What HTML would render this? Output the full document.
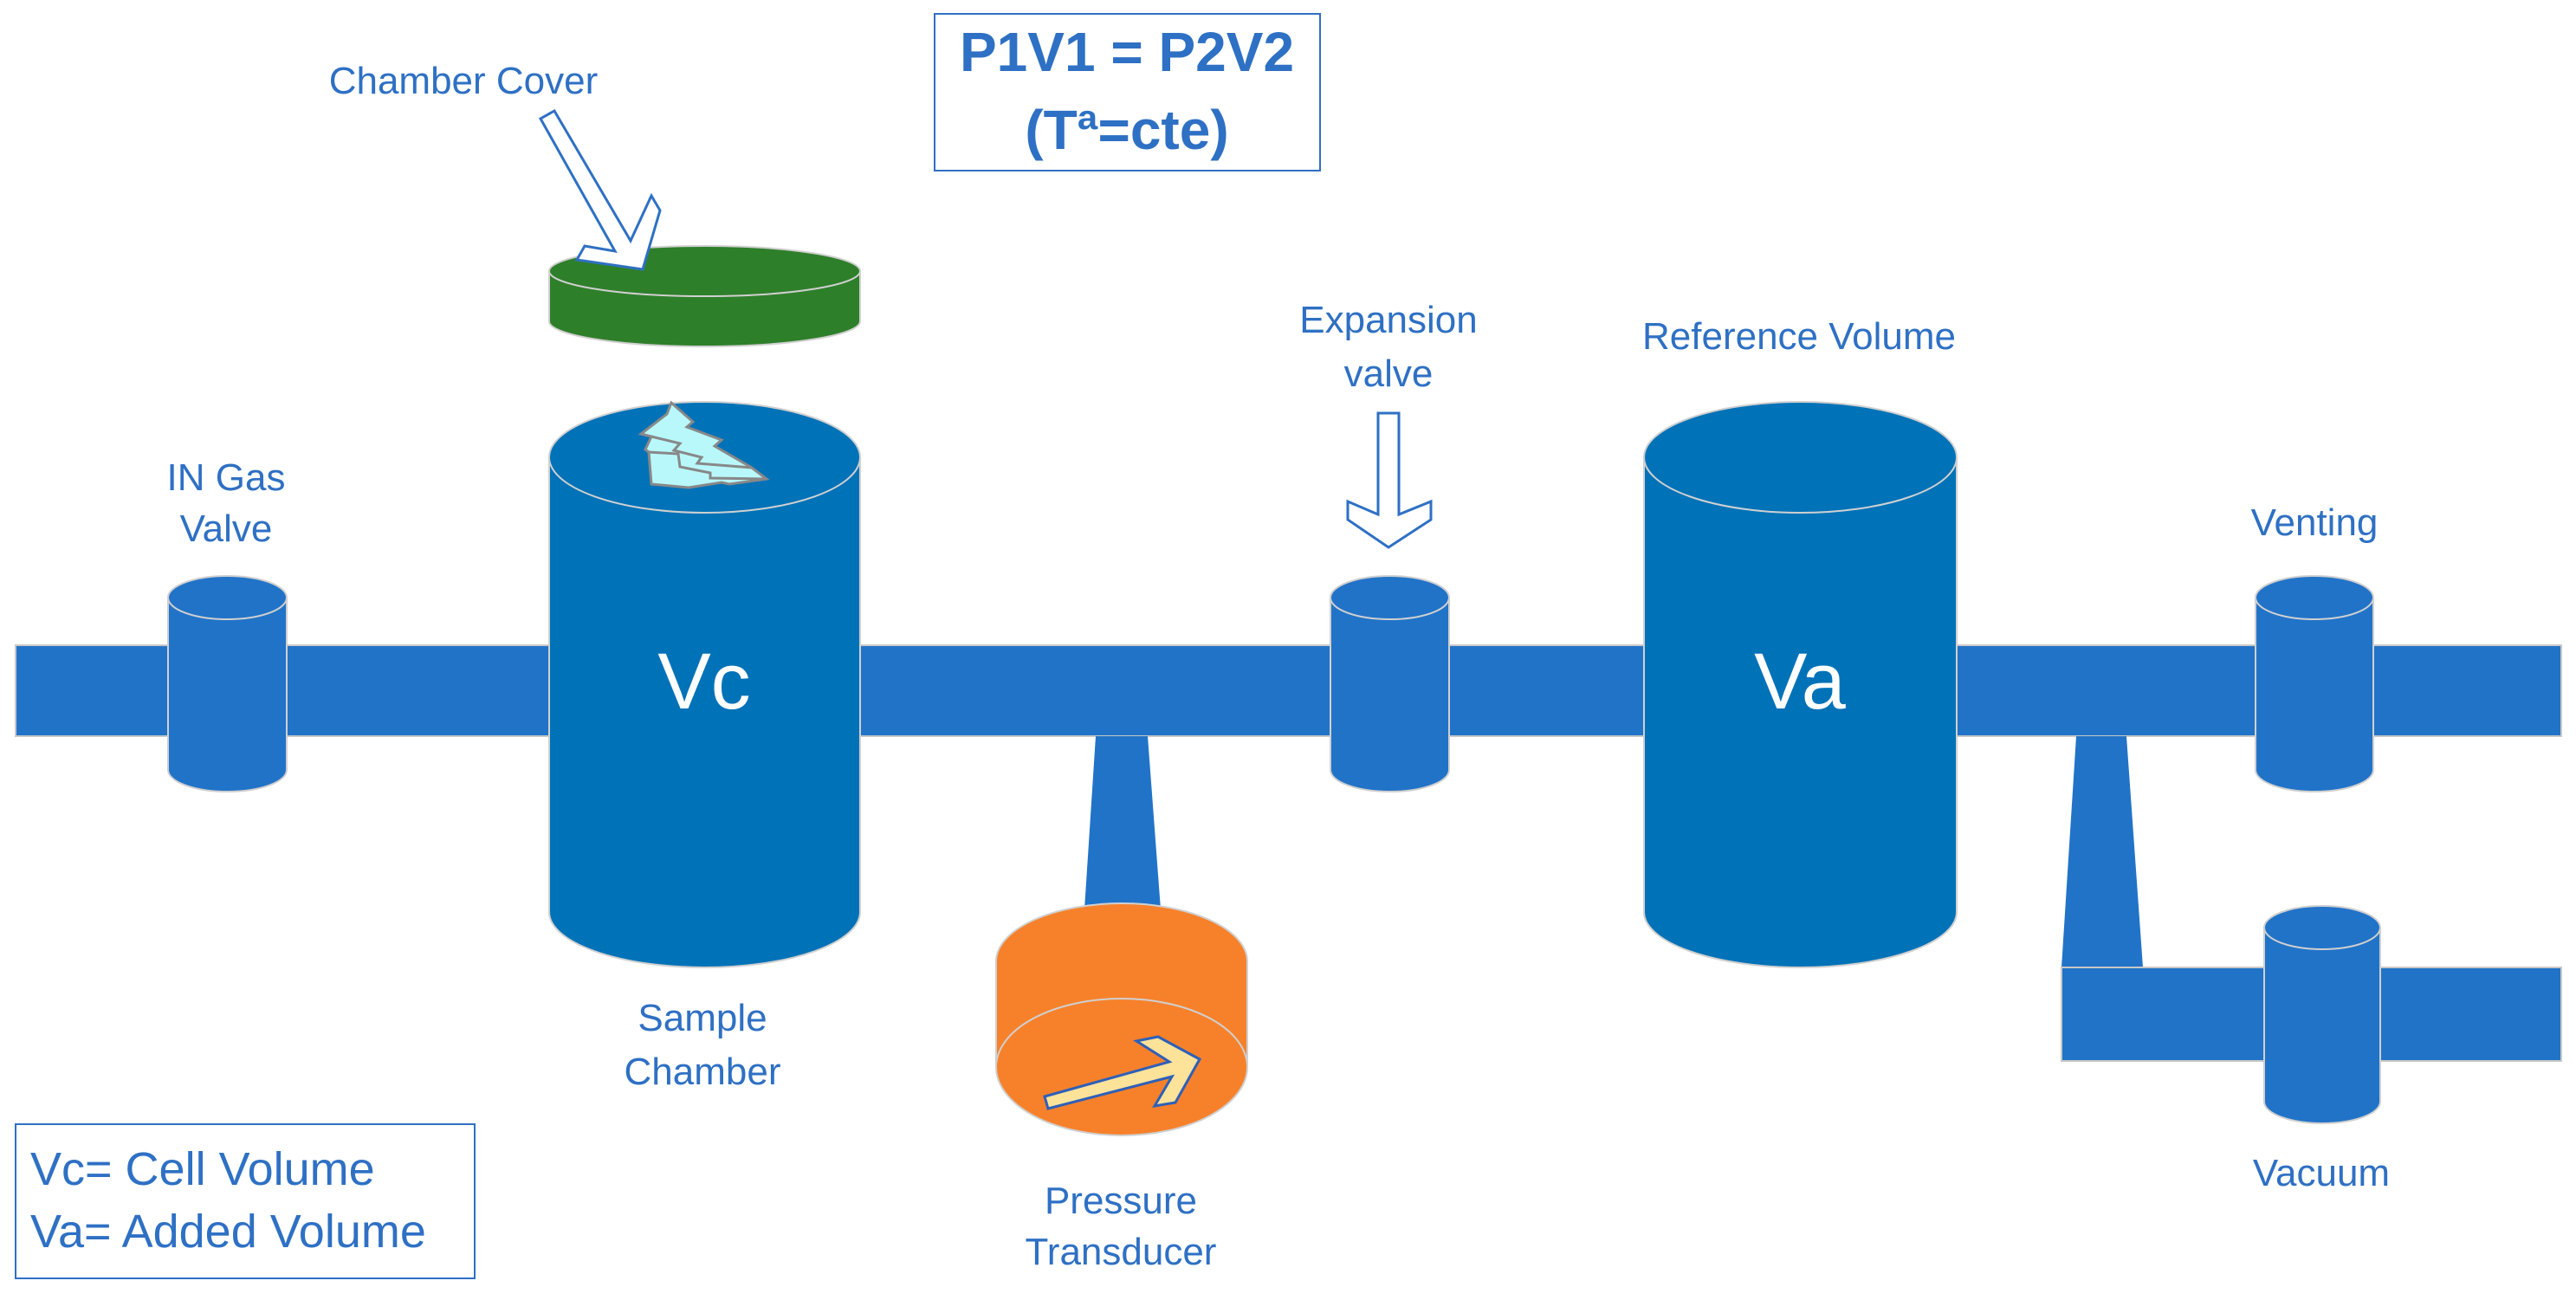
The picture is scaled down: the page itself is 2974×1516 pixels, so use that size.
<!DOCTYPE html>
<html><head><meta charset="utf-8"><style>
html,body{margin:0;padding:0;background:#fff;}
svg{display:block;}
text{font-family:"Liberation Sans",sans-serif;fill:#2e70c4;}
</style></head><body>
<svg width="2974" height="1516" viewBox="0 0 2974 1516" xmlns="http://www.w3.org/2000/svg">
<!-- main pipe -->
<rect x="18" y="745" width="2939" height="105" fill="#2173c8" stroke="#c8c8c8" stroke-width="2"/>
<!-- vacuum branch -->
<polygon points="2397,850 2455,850 2474,1117 2380,1117" fill="#2173c8"/>
<rect x="2380" y="1117" width="577" height="108" fill="#2173c8" stroke="#c8c8c8" stroke-width="2"/>
<!-- pressure stem -->
<polygon points="1265,850 1325,850 1340,1050 1252,1050" fill="#2173c8"/>

<!-- valves -->
<g fill="#2173c8" stroke="#d0d0d0" stroke-width="2">
 <path d="M194,690 L194,889 A68.5,25 0 0 0 331,889 L331,690 Z"/>
 <ellipse cx="262.5" cy="690" rx="68.5" ry="25"/>
 <path d="M1536,690 L1536,889 A68.5,25 0 0 0 1673,889 L1673,690 Z"/>
 <ellipse cx="1604.5" cy="690" rx="68.5" ry="25"/>
 <path d="M2604,690 L2604,889 A68,25 0 0 0 2740,889 L2740,690 Z"/>
 <ellipse cx="2672" cy="690" rx="68" ry="25"/>
 <path d="M2614,1071 L2614,1272 A67,25 0 0 0 2748,1272 L2748,1071 Z"/>
 <ellipse cx="2681" cy="1071" rx="67" ry="25"/>
</g>

<!-- chambers -->
<g fill="#0072b8" stroke="#d0d0d0" stroke-width="2">
 <path d="M634,528 L634,1053 A179.5,64 0 0 0 993,1053 L993,528 Z"/>
 <ellipse cx="813.5" cy="528" rx="179.5" ry="64"/>
 <path d="M1898,528 L1898,1053 A180.5,64 0 0 0 2259,1053 L2259,528 Z"/>
 <ellipse cx="2078.5" cy="528" rx="180.5" ry="64"/>
</g>
<text x="813" y="818" font-size="92" text-anchor="middle" style="fill:#fff">Vc</text>
<text x="2078" y="818" font-size="92" text-anchor="middle" style="fill:#fff">Va</text>

<!-- tree -->
<polygon points="775,465 800,487 793,493 833,508 825,515 868,540 885,553 842,559 833,557 795,563 752,559 749,522 745,519 752,504 740,501 770,478" fill="#b8f8fb" stroke="#888" stroke-width="3"/>
<polyline points="752,504 785,512 778,520 810,528 805,535 868,540" fill="none" stroke="#888" stroke-width="3"/>
<polyline points="749,522 783,524 785,539 820,546 820,552 885,553" fill="none" stroke="#888" stroke-width="3"/>

<!-- green cover -->
<g fill="#2e7f2a" stroke="#d0d0d0" stroke-width="2">
 <path d="M634,313 L634,371 A179.5,29 0 0 0 993,371 L993,313 Z"/>
 <ellipse cx="813.5" cy="313" rx="179.5" ry="29"/>
</g>
<!-- cover arrow -->
<polygon points="624,137 640,128 728,278 752,226 762,243 742,311 666,300 675,284 710,290" fill="#fff" stroke="#2e70c4" stroke-width="3"/>

<!-- orange transducer -->
<g fill="#f7812a" stroke="#d0d0d0" stroke-width="2">
 <path d="M1150,1110 L1150,1232 A145,79 0 0 0 1440,1232 L1440,1110 A145,67 0 0 0 1150,1110 Z"/>
 <path d="M1150,1232 A145,79 0 0 1 1440,1232" fill="none"/>
</g>
<polygon points="1206,1266 1350,1226 1312,1202 1337,1197 1385,1223 1357,1273 1333,1277 1353,1243 1210,1280" fill="#fde29a" stroke="#2e60b8" stroke-width="3"/>

<!-- expansion arrow -->
<polygon points="1591,477 1615,477 1615,594 1652,579 1652,600 1603,632 1556,600 1556,579 1591,594" fill="#fff" stroke="#2e70c4" stroke-width="3"/>

<!-- equation box -->
<rect x="1079" y="16" width="445" height="181" fill="#fff" stroke="#2e70c4" stroke-width="2"/>
<text x="1301" y="82" font-size="64" font-weight="bold" text-anchor="middle">P1V1 = P2V2</text>
<text x="1301" y="172" font-size="64" font-weight="bold" text-anchor="middle">(Tª=cte)</text>

<!-- legend -->
<rect x="18" y="1298" width="530" height="178" fill="#fff" stroke="#2e70c4" stroke-width="2"/>
<text x="35" y="1368" font-size="54">Vc= Cell Volume</text>
<text x="35" y="1440" font-size="54">Va= Added Volume</text>

<!-- labels -->
<g font-size="44" text-anchor="middle">
<text x="535" y="108">Chamber Cover</text>
<text x="261" y="566">IN Gas</text>
<text x="261" y="625">Valve</text>
<text x="811" y="1190">Sample</text>
<text x="811" y="1252">Chamber</text>
<text x="1294" y="1401">Pressure</text>
<text x="1294" y="1460">Transducer</text>
<text x="1603" y="384">Expansion</text>
<text x="1603" y="446">valve</text>
<text x="2077" y="403">Reference Volume</text>
<text x="2672" y="618">Venting</text>
<text x="2680" y="1369">Vacuum</text>
</g>
</svg>
</body></html>
